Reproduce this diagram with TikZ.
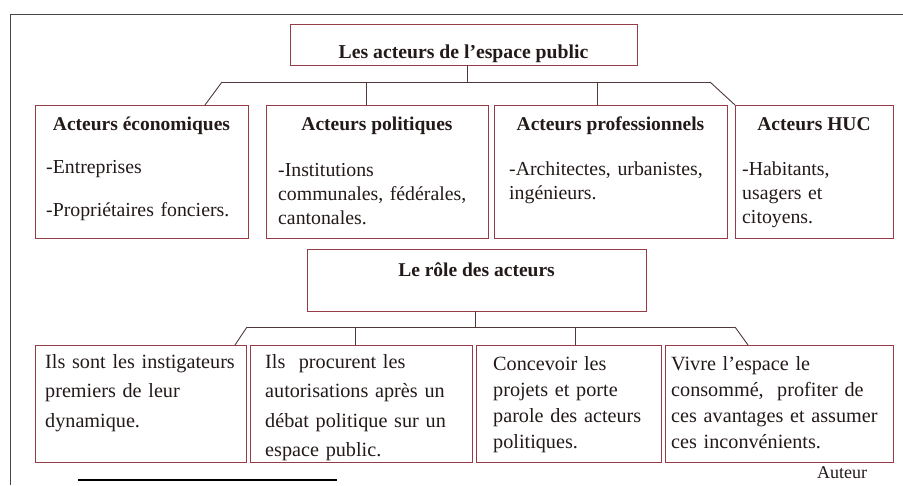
\documentclass[tikz,border=0pt]{standalone}
\usepackage{fontspec}
\setmainfont{Liberation Serif}
\definecolor{boxc}{RGB}{150,60,70}
\definecolor{conc}{RGB}{80,55,58}
\definecolor{framec}{RGB}{70,70,70}
\definecolor{txt}{RGB}{35,25,25}
\begin{document}
\begin{tikzpicture}[x=1pt,y=-1pt,
  box/.style={draw=boxc, line width=0.9pt, inner sep=0pt, outer sep=0pt, anchor=north west},
  con/.style={draw=conc, line width=0.9pt},
  framel/.style={draw=framec, line width=0.9pt},
  titlet/.style={font=\fontsize{19.7}{24}\bfseries, text=txt, inner sep=0pt, anchor=base},
  head/.style={font=\fontsize{19.5}{24}\bfseries, text=txt, inner sep=0pt, anchor=base},
  bodya/.style={font=\fontsize{19.8}{24}\selectfont, text=txt, inner sep=0pt, anchor=base west, align=left},
  bodyb/.style={font=\fontsize{20.2}{29.5}\selectfont, text=txt, inner sep=0pt, anchor=base west, align=left},
  bodyc/.style={font=\fontsize{20.2}{26}\selectfont, text=txt, inner sep=0pt, anchor=base west, align=left},
  notet/.style={font=\fontsize{18}{22}\selectfont, text=txt, inner sep=0pt, anchor=base}
]
\useasboundingbox (0,0) rectangle (903,485);
% frame
\coordinate (fb) at (10,485);
\coordinate (ftl) at (10,14);
\coordinate (ftr) at (903,14);
\draw[framel] (fb) -- (ftl) -- (ftr);
\coordinate (bl1) at (78,480);
\coordinate (bl2) at (337,480);
\draw[framel, line width=1.2pt, draw=black] (bl1) -- (bl2);

% title
\node[box, minimum width=347pt, minimum height=41pt] (t) at (290,24) {};
\node[titlet] (tt) at (463.5,58) {Les acteurs de l’espace public};

% row 1 boxes
\node[box, minimum width=213pt, minimum height=133pt] (e1) at (35,105) {};
\node[box, minimum width=222pt, minimum height=133pt] (e2) at (266,105) {};
\node[box, minimum width=233pt, minimum height=133pt] (e3) at (494,105) {};
\node[box, minimum width=158pt, minimum height=133pt] (e4) at (735,105) {};

\node[head] (e1h) at (141.5,130) {Acteurs économiques};
\node[head] (e2h) at (377,130) {Acteurs politiques};
\node[head] (e3h) at (610.5,130) {Acteurs professionnels};
\node[head] (e4h) at (814,130) {Acteurs HUC};

\node[bodya, text width=200pt] (e1t) at (46,173) {-Entreprises\\[19.5pt]-Propriétaires fonciers.};
\node[bodya, text width=205pt] (e2t) at (278,176) {-Institutions\\\makebox[199pt][s]{communales, fédérales,}\\cantonales.};
\node[bodya, text width=210pt] (e3t) at (509,175) {\makebox[204pt][s]{-Architectes, urbanistes,}\\ingénieurs.};
\node[bodya, text width=145pt] (e4t) at (742,175) {-Habitants,\\usagers et\\citoyens.};

% row 1 connectors
\coordinate (h1L) at (222,82);
\coordinate (h1R) at (710,82);
\draw[con] ([xshift=3.5pt]t.south) -- ([xshift=3.5pt]t.south |- h1L);
\draw[con] (h1L) -- (h1R);
\draw[con] (h1L) -- ([xshift=170pt]e1.north west);
\draw[con] ([xshift=-11pt]e2.north) -- ([xshift=-11pt]e2.north |- h1L);
\draw[con] ([xshift=-13.5pt]e3.north) -- ([xshift=-13.5pt]e3.north |- h1L);
\draw[con] (h1R) -- (e4.north west);

% role box
\node[box, minimum width=339pt, minimum height=62pt] (r) at (307,249) {};
\node[head] (rt) at (476.5,276) {Le rôle des acteurs};

% row 2 boxes
\node[box, minimum width=211pt, minimum height=117pt] (r1) at (35,345) {};
\node[box, minimum width=222pt, minimum height=117pt] (r2) at (250,345) {};
\node[box, minimum width=185pt, minimum height=117pt] (r3) at (476,345) {};
\node[box, minimum width=228pt, minimum height=117pt] (r4) at (665,345) {};

\node[bodyb, text width=200pt] (r1t) at (45,368) {Ils sont les instigateurs\\premiers de leur\\dynamique.};
\node[bodyb, text width=205pt] (r2t) at (265,368) {Ils\ \ procurent les\\autorisations après un\\débat politique sur un\\espace public.};
\node[bodyc, text width=180pt] (r3t) at (493,370) {Concevoir les\\projets et porte\\parole des acteurs\\politiques.};
\node[bodyc, text width=218pt] (r4t) at (671,370) {Vivre l’espace le\\\makebox[194pt][s]{consommé,\ \ profiter de}\\ces avantages et assumer\\ces inconvénients.};

% row 2 connectors
\coordinate (h2L) at (247,327);
\coordinate (h2R) at (735,327);
\draw[con] ([xshift=-1.5pt]r.south) -- ([xshift=-1.5pt]r.south |- h2L);
\draw[con] (h2L) -- (h2R);
\draw[con] (h2L) -- ([xshift=200pt]r1.north west);
\draw[con] ([xshift=-6pt]r2.north) -- ([xshift=-6pt]r2.north |- h2L);
\draw[con] ([xshift=6.5pt]r3.north) -- ([xshift=6.5pt]r3.north |- h2L);
\draw[con] (h2R) -- ([xshift=83pt]r4.north west);

\node[notet] (au) at (842,478) {Auteur};
\end{tikzpicture}
\end{document}
